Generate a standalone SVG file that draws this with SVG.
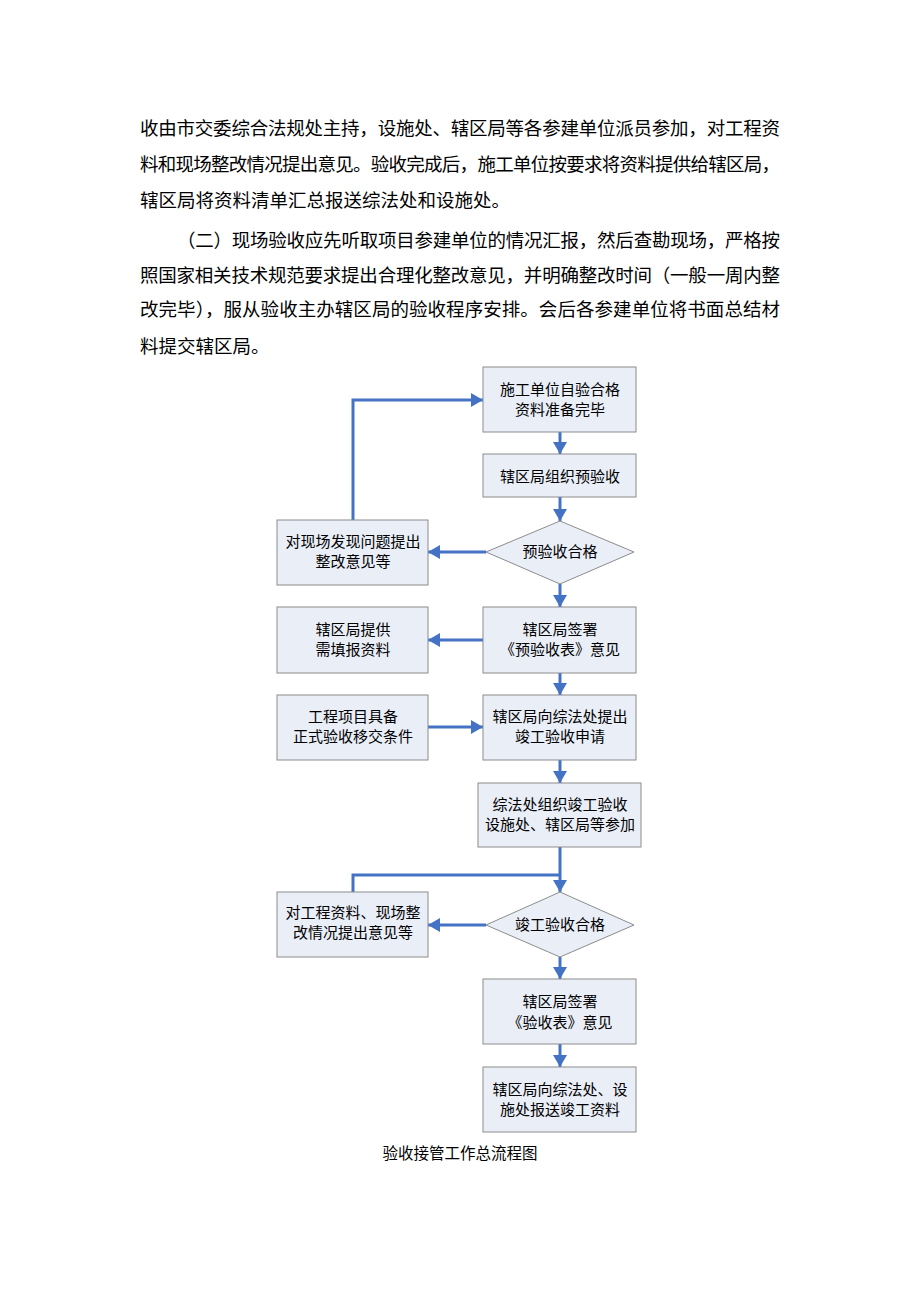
<svg xmlns="http://www.w3.org/2000/svg" width="920" height="1302" viewBox="0 0 920 1302">
<style>
.p{font-family:"Liberation Serif","Noto Sans CJK SC",serif;font-size:18.5px;fill:#000}
.b{fill:#E9EEF7;stroke:#8C8C8C;stroke-width:1}
.t{font-family:"Liberation Serif","Noto Sans CJK SC",sans-serif;font-size:15px;fill:#000;text-anchor:middle}
.c{fill:none;stroke:#4472C4;stroke-width:3}
.cap{font-family:"Liberation Serif","Noto Sans CJK SC",sans-serif;font-size:15.5px;fill:#000;text-anchor:middle}
</style>
<defs>
<marker id="ah" viewBox="0 0 12 14" refX="12" refY="7" markerWidth="12" markerHeight="14" markerUnits="userSpaceOnUse" orient="auto">
<path d="M0,0 L12,7 L0,14 z" fill="#4472C4"/>
</marker>
</defs>
<rect width="920" height="1302" fill="#fff"/>
<g id="paragraph">
<text class="p" x="140" y="135" textLength="640" lengthAdjust="spacing">收由市交委综合法规处主持，设施处、辖区局等各参建单位派员参加，对工程资</text>
<text class="p" x="140" y="171" textLength="640" lengthAdjust="spacing">料和现场整改情况提出意见。验收完成后，施工单位按要求将资料提供给辖区局，</text>
<text class="p" x="140" y="207">辖区局将资料清单汇总报送综法处和设施处。</text>
<text class="p" x="177" y="247" textLength="603" lengthAdjust="spacing">（二）现场验收应先听取项目参建单位的情况汇报，然后查勘现场，严格按</text>
<text class="p" x="140" y="282" textLength="640" lengthAdjust="spacing">照国家相关技术规范要求提出合理化整改意见，并明确整改时间（一般一周内整</text>
<text class="p" x="140" y="316" textLength="640" lengthAdjust="spacing">改完毕），服从验收主办辖区局的验收程序安排。会后各参建单位将书面总结材</text>
<text class="p" x="140" y="353">料提交辖区局。</text>
</g>
<g id="connectors">
<path class="c" d="M353,520 V400 H483" marker-end="url(#ah)"/>
<path class="c" d="M560,432 V454" marker-end="url(#ah)"/>
<path class="c" d="M560,497 V521" marker-end="url(#ah)"/>
<path class="c" d="M486,552 H428" marker-end="url(#ah)"/>
<path class="c" d="M560,584 V607" marker-end="url(#ah)"/>
<path class="c" d="M483,640 H428" marker-end="url(#ah)"/>
<path class="c" d="M560,673 V695" marker-end="url(#ah)"/>
<path class="c" d="M428,727 H483" marker-end="url(#ah)"/>
<path class="c" d="M560,760 V783" marker-end="url(#ah)"/>
<path class="c" d="M560,847 V892" marker-end="url(#ah)"/>
<path class="c" d="M353,892 V875 H560"/>
<path class="c" d="M486,925 H428" marker-end="url(#ah)"/>
<path class="c" d="M560,957 V979" marker-end="url(#ah)"/>
<path class="c" d="M560,1044 V1067" marker-end="url(#ah)"/>
</g>
<g id="n1"><rect class="b" x="483" y="367" width="153" height="65"/><text class="t" x="560" y="395">施工单位自验合格</text><text class="t" x="560" y="415">资料准备完毕</text></g>
<g id="n2"><rect class="b" x="483" y="454" width="153" height="43"/><text class="t" x="560" y="482">辖区局组织预验收</text></g>
<g id="n3"><polygon class="b" points="560,521 634,552 560,584 486,552"/><text class="t" x="560" y="557">预验收合格</text></g>
<g id="n4"><rect class="b" x="277" y="520" width="151" height="65"/><text class="t" x="353" y="547">对现场发现问题提出</text><text class="t" x="353" y="567">整改意见等</text></g>
<g id="n5"><rect class="b" x="483" y="607" width="153" height="66"/><text class="t" x="560" y="635">辖区局签署</text><text class="t" x="560" y="655">《预验收表》意见</text></g>
<g id="n6"><rect class="b" x="277" y="607" width="151" height="66"/><text class="t" x="353" y="635">辖区局提供</text><text class="t" x="353" y="655">需填报资料</text></g>
<g id="n7"><rect class="b" x="483" y="695" width="153" height="65"/><text class="t" x="560" y="722">辖区局向综法处提出</text><text class="t" x="560" y="742">竣工验收申请</text></g>
<g id="n8"><rect class="b" x="277" y="695" width="151" height="65"/><text class="t" x="353" y="722">工程项目具备</text><text class="t" x="353" y="742">正式验收移交条件</text></g>
<g id="n9"><rect class="b" x="478" y="783" width="163" height="64"/><text class="t" x="560" y="810">综法处组织竣工验收</text><text class="t" x="560" y="830">设施处、辖区局等参加</text></g>
<g id="n10"><polygon class="b" points="560,892 634,925 560,957 486,925"/><text class="t" x="560" y="930">竣工验收合格</text></g>
<g id="n11"><rect class="b" x="277" y="892" width="151" height="65"/><text class="t" x="353" y="918">对工程资料、现场整</text><text class="t" x="353" y="938">改情况提出意见等</text></g>
<g id="n12"><rect class="b" x="483" y="979" width="153" height="65"/><text class="t" x="560" y="1007">辖区局签署</text><text class="t" x="560" y="1028">《验收表》意见</text></g>
<g id="n13"><rect class="b" x="483" y="1067" width="153" height="65"/><text class="t" x="560" y="1095">辖区局向综法处、设</text><text class="t" x="560" y="1115">施处报送竣工资料</text></g>
<text class="cap" x="460" y="1159">验收接管工作总流程图</text>
</svg>
